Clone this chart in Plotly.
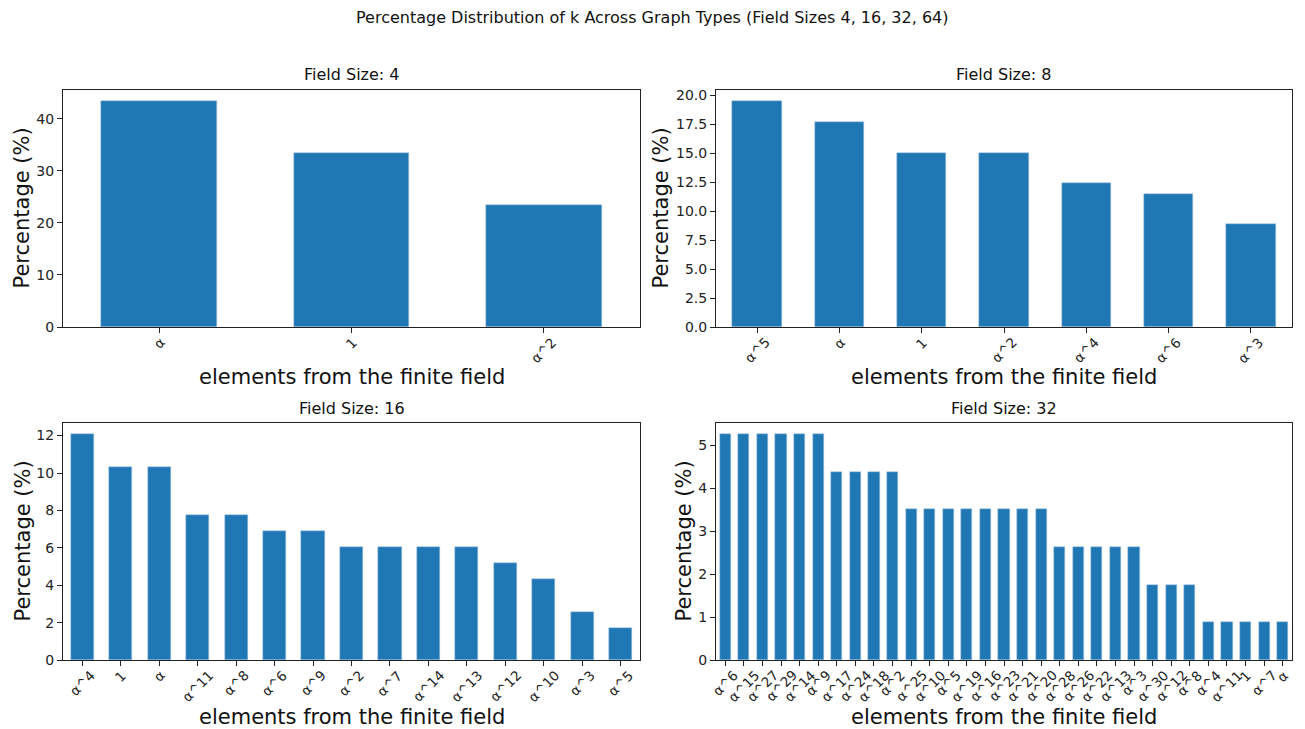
import plotly.graph_objects as go

# Share (%) of each finite-field element as k, per field size
labels_4 = ["α", "1", "α^2"]
pct_4 = [43.33, 33.33, 23.33]

labels_8 = ["α^5", "α", "1", "α^2", "α^4", "α^6", "α^3"]
pct_8 = [19.47, 17.70, 15.04, 15.04, 12.39, 11.50, 8.85]

labels_16 = ["α^4", "1", "α", "α^11", "α^8", "α^6", "α^9", "α^2", "α^7",
             "α^14", "α^13", "α^12", "α^10", "α^3", "α^5"]
pct_16 = [12.07, 10.34, 10.34, 7.76, 7.76, 6.90, 6.90, 6.03, 6.03,
          6.03, 6.03, 5.17, 4.31, 2.59, 1.72]

labels_32 = ["α^6", "α^15", "α^27", "α^29", "α^14", "α^9", "α^17", "α^24",
             "α^18", "α^2", "α^25", "α^10", "α^5", "α^19", "α^16", "α^23",
             "α^21", "α^20", "α^28", "α^26", "α^22", "α^13", "α^3", "α^30",
             "α^12", "α^8", "α^4", "α^11", "1", "α^7", "α"]
pct_32 = [5.26, 5.26, 5.26, 5.26, 5.26, 5.26, 4.39, 4.39,
          4.39, 4.39, 3.51, 3.51, 3.51, 3.51, 3.51, 3.51,
          3.51, 3.51, 2.63, 2.63, 2.63, 2.63, 2.63, 1.75,
          1.75, 1.75, 0.88, 0.88, 0.88, 0.88, 0.88]

panel_titles = ["Field Size: 4", "Field Size: 8", "Field Size: 16", "Field Size: 32"]
suptitle = "Percentage Distribution of k Across Graph Types (Field Sizes 4, 16, 32, 64)"
x_label = "elements from the finite field"
y_label = "Percentage (%)"

W, H = 1305, 729
BAR = "#1f77b4"
FONT = "DejaVu Sans, Liberation Sans, sans-serif"

# Axes boxes in pixels: (left, right, top, bottom)
boxes = [(63, 640, 90, 327), (716, 1292, 90, 327),
         (63, 640, 423, 660), (716, 1292, 423, 660)]
ytick_sets = [
    ([0, 10, 20, 30, 40], ".0f"),
    ([0, 2.5, 5, 7.5, 10, 12.5, 15, 17.5, 20], ".1f"),
    ([0, 2, 4, 6, 8, 10, 12], ".0f"),
    ([0, 1, 2, 3, 4, 5], ".0f"),
]
ytitle_x = [22, 661, 22, 683]
xtitle_gap = [50, 50, 57, 57]

series = [(labels_4, pct_4), (labels_8, pct_8), (labels_16, pct_16), (labels_32, pct_32)]


def note(text, px, py, size, angle=0):
    return dict(text=text, x=px / W, y=1 - py / H, xref="paper", yref="paper",
                xanchor="center", yanchor="middle", showarrow=False, textangle=angle,
                font=dict(family=FONT, size=size, color="#111"))


fig = go.Figure()
annotations = []
layout = {}
for i, ((labs, vals), (l, r, t, b), (tv, fmt)) in enumerate(zip(series, boxes, ytick_sets)):
    n = i + 1
    xa = "x" if n == 1 else f"x{n}"
    ya = "y" if n == 1 else f"y{n}"
    cats = list(range(len(labs)))
    fig.add_trace(go.Bar(
        x=cats, y=vals, width=0.6,
        marker=dict(color=BAR, line=dict(color="#a9c7e0", width=0.5)),
        xaxis=xa, yaxis=ya, showlegend=False,
        hovertext=labs, hoverinfo="text+y",
    ))
    common = dict(showline=True, linecolor="#222", linewidth=1, mirror=True,
                  ticks="outside", ticklen=5, tickcolor="#222", tickwidth=1,
                  showgrid=False, zeroline=False,
                  tickfont=dict(family=FONT, size=14, color="#222"))
    layout["xaxis" if n == 1 else f"xaxis{n}"] = dict(
        domain=[l / W, r / W], anchor=ya,
        range=[-0.5, len(labs) - 0.5],
        tickmode="array", tickvals=cats, showticklabels=False,
        automargin=False, **common)
    layout["yaxis" if n == 1 else f"yaxis{n}"] = dict(
        domain=[1 - b / H, 1 - t / H], anchor=xa,
        range=[0, max(vals) * 1.05],
        tickmode="array", tickvals=tv, tickformat=fmt, automargin=False, **common)
    # rotated category labels, centred under each tick
    for c, lab in zip(cats, labs):
        annotations.append(dict(text=lab, x=c, xref=xa, y=1 - (b + 6) / H, yref="paper",
                                xanchor="center", yanchor="top", textangle=-45,
                                showarrow=False, borderpad=0,
                                font=dict(family=FONT, size=13.5, color="#222")))
    cx = (l + r) / 2
    annotations.append(note(panel_titles[i], cx, t - 15, 16))
    annotations.append(note(x_label, cx, b + xtitle_gap[i], 21))
    annotations.append(note(y_label, ytitle_x[i], (t + b) / 2, 21, angle=-90))

annotations.append(note(suptitle, 652, 17, 16))

fig.update_layout(
    width=W, height=H,
    margin=dict(l=0, r=0, t=0, b=0),
    paper_bgcolor="white", plot_bgcolor="white",
    bargap=0, annotations=annotations,
    **layout,
)

fig.write_html("out.html")
